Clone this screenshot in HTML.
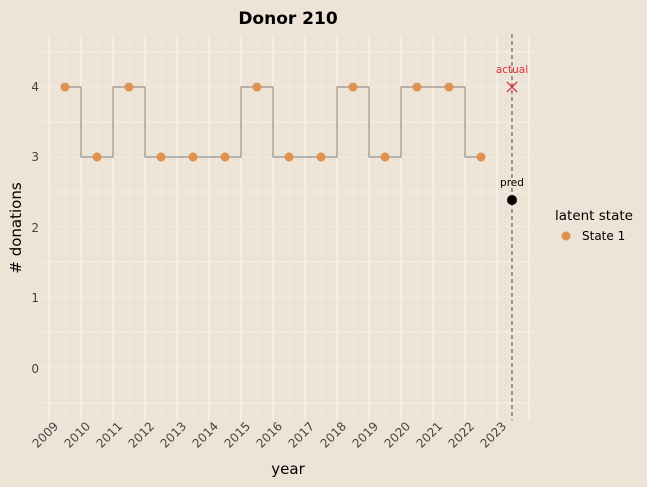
<html><body style="margin:0;background:#ede3d6">
<svg width="647" height="487" xmlns="http://www.w3.org/2000/svg" font-family="DejaVu Sans, sans-serif">
<rect width="647" height="487" fill="#ede3d6"/>
<g stroke="#f5f0ea" stroke-width="1">
<line x1="42" x2="534" y1="52" y2="52"/><line x1="42" x2="534" y1="122" y2="122"/><line x1="42" x2="534" y1="192" y2="192"/><line x1="42" x2="534" y1="262" y2="262"/><line x1="42" x2="534" y1="332" y2="332"/><line x1="42" x2="534" y1="403" y2="403"/>
</g>
<g stroke="#f0e9e1" stroke-width="1.4">
<line x1="42" x2="534" y1="87" y2="87"/><line x1="42" x2="534" y1="157" y2="157"/><line x1="42" x2="534" y1="227" y2="227"/><line x1="42" x2="534" y1="297" y2="297"/><line x1="42" x2="534" y1="367" y2="367"/>
</g>
<g id="vg" stroke="#faf6f2" stroke-width="1.2"></g>
<polyline fill="none" stroke="#98938e" stroke-width="1.2" points="65,87 81,87 81,157 113,157 113,87 145,87 145,157 241,157 241,87 273,87 273,157 337,157 337,87 369,87 369,157 401,157 401,87 465,87 465,157 481,157"/>
<g id="pts" fill="#e09152"></g>
<line x1="512" x2="512" y1="34" y2="420" stroke="#444" stroke-width="1" stroke-dasharray="4,3"/>
<g stroke="#d9323a" stroke-width="1.3"><line x1="507" y1="82" x2="517" y2="92"/><line x1="517" y1="82" x2="507" y2="92"/></g>
<text x="512" y="73" font-size="10.5" fill="#d9323a" text-anchor="middle">actual</text>
<circle cx="512" cy="200" r="5" fill="#000"/>
<text x="512" y="186" font-size="10.5" fill="#000" text-anchor="middle">pred</text>
<g font-size="12" fill="#444" text-anchor="end">
<text x="39" y="91">4</text><text x="39" y="161">3</text><text x="39" y="232">2</text><text x="39" y="302">1</text><text x="39" y="373">0</text>
</g>
<g id="xl" font-size="12" fill="#444" text-anchor="end"></g>
<text x="288" y="24" font-size="17" font-weight="bold" text-anchor="middle">Donor 210</text>
<text x="288" y="474" font-size="15" text-anchor="middle">year</text>
<text transform="translate(21,228) rotate(-90)" font-size="15" text-anchor="middle"># donations</text>
<text x="555" y="220" font-size="13.5">latent state</text>
<circle cx="566" cy="236" r="4.5" fill="#e09152"/>
<text x="582" y="240" font-size="12">State 1</text>
<script>
var vg=document.getElementById('vg'),pts=document.getElementById('pts'),xl=document.getElementById('xl'),ns='http://www.w3.org/2000/svg';
for(var i=0;i<=15;i++){var x=49+32*i;var l=document.createElementNS(ns,'line');l.setAttribute('x1',x);l.setAttribute('x2',x);l.setAttribute('y1',34);l.setAttribute('y2',420);vg.appendChild(l);
if(i<15){var m=document.createElementNS(ns,'line');m.setAttribute('x1',x+16);m.setAttribute('x2',x+16);m.setAttribute('y1',34);m.setAttribute('y2',420);m.setAttribute('stroke-width','0.8');m.setAttribute('stroke','#f3ede6');vg.appendChild(m);
var t=document.createElementNS(ns,'text');t.setAttribute('transform','translate('+(x+10)+',427) rotate(-45)');t.textContent=2009+i;xl.appendChild(t);}}
var v=[4,3,4,3,3,3,4,3,3,4,3,4,4,3];
v.forEach(function(d,i){var c=document.createElementNS(ns,'circle');c.setAttribute('cx',65+32*i);c.setAttribute('cy',d==4?87:157);c.setAttribute('r',4.5);pts.appendChild(c);});
</script>
</svg></body></html>
